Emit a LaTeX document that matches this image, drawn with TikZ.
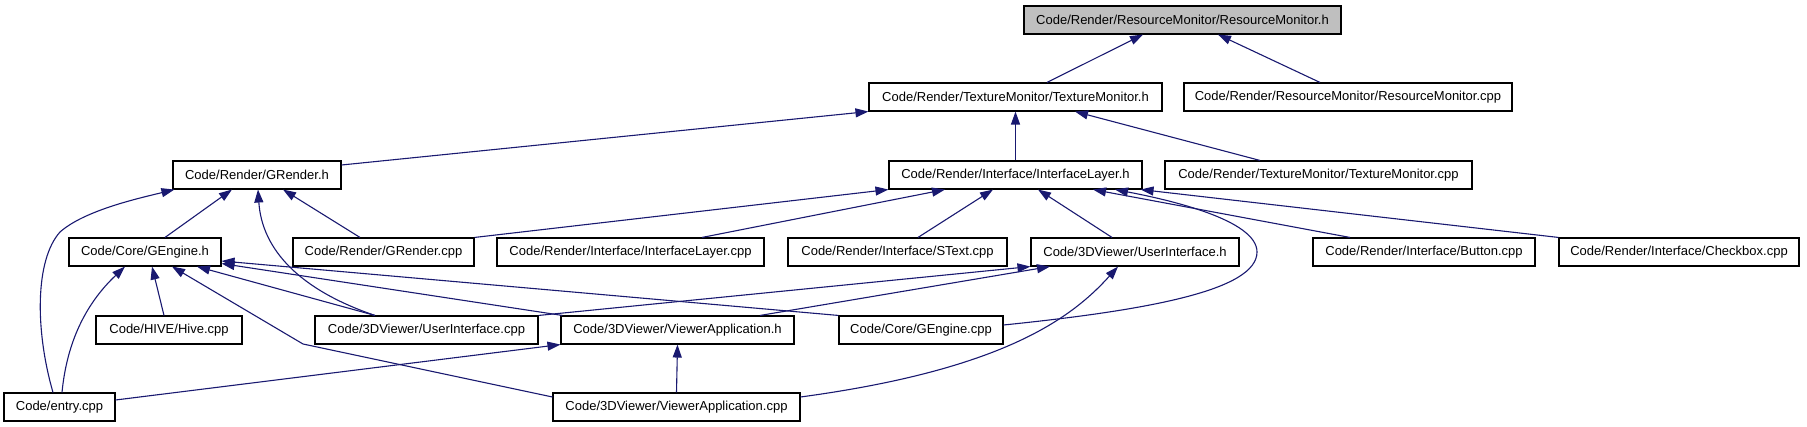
\documentclass[tikz,border=0pt]{standalone}
\usepackage{fontspec}
\setsansfont{Liberation Sans}
\usepackage{tikz}
\usetikzlibrary{arrows.meta, positioning, calc}
\usepackage{xcolor}
\definecolor{MidnightBlue}{RGB}{25, 25, 112}
\definecolor{RootGray}{RGB}{191, 191, 191}

\begin{document}
\begin{tikzpicture}[
    x=1pt, y=-1pt,
    box/.style={rectangle, draw=black, fill=white, line width=1.1pt, inner sep=0pt, minimum height=28pt, font=\sffamily\fontsize{13}{15}\selectfont},
    root/.style={box, fill=RootGray},
    arrow/.style={-{Triangle[length=13pt, width=9pt]}, draw=MidnightBlue, line width=1.1pt}
]
    \useasboundingbox (0,0) rectangle (1807,427);

    % files
    \node[root, minimum width=317pt] (resmonh) at (1182.5,20) {Code/Render/ResourceMonitor/ResourceMonitor.h};
    \node[box, minimum width=293pt] (texmonh) at (1015.5,97) {Code/Render/TextureMonitor/TextureMonitor.h};
    \node[box, minimum width=328pt] (resmoncpp) at (1348,97) {Code/Render/ResourceMonitor/ResourceMonitor.cpp};
    \node[box, minimum width=168pt] (grenderh) at (257,175) {Code/Render/GRender.h};
    \node[box, minimum width=253pt] (ilayerh) at (1015.5,175) {Code/Render/Interface/InterfaceLayer.h};
    \node[box, minimum width=307pt] (texmoncpp) at (1318.5,175) {Code/Render/TextureMonitor/TextureMonitor.cpp};
    \node[box, minimum width=152pt] (gengineh) at (145,252) {Code/Core/GEngine.h};
    \node[box, minimum width=181pt] (grendercpp) at (383.5,252) {Code/Render/GRender.cpp};
    \node[box, minimum width=267pt] (ilayercpp) at (630.5,252) {Code/Render/Interface/InterfaceLayer.cpp};
    \node[box, minimum width=219pt] (stextcpp) at (897.5,252) {Code/Render/Interface/SText.cpp};
    \node[box, minimum width=208pt] (uih) at (1135,252) {Code/3DViewer/UserInterface.h};
    \node[box, minimum width=222pt] (buttoncpp) at (1424,252) {Code/Render/Interface/Button.cpp};
    \node[box, minimum width=240pt] (checkboxcpp) at (1679,252) {Code/Render/Interface/Checkbox.cpp};
    \node[box, minimum width=146pt] (hivecpp) at (169,330) {Code/HIVE/Hive.cpp};
    \node[box, minimum width=223pt] (uicpp) at (426.5,330) {Code/3DViewer/UserInterface.cpp};
    \node[box, minimum width=233pt] (vah) at (677.5,330) {Code/3DViewer/ViewerApplication.h};
    \node[box, minimum width=164pt] (genginecpp) at (921,330) {Code/Core/GEngine.cpp};
    \node[box, minimum width=111pt] (entrycpp) at (59.5,407) {Code/entry.cpp};
    \node[box, minimum width=247pt] (vacpp) at (676.5,407) {Code/3DViewer/ViewerApplication.cpp};

    % includes
    \draw[arrow] ([xshift=31.5pt]texmonh.north) -- ([xshift=-39.5pt]resmonh.south);
    \draw[arrow] ([xshift=-28pt]resmoncpp.north) -- ([xshift=35.5pt]resmonh.south);
    \draw[arrow] ([yshift=10pt]grenderh.east) -- (texmonh.south west);
    \draw[arrow] (ilayerh.north) -- (texmonh.south);
    \draw[arrow] ([xshift=-58.5pt]texmoncpp.north) -- ([xshift=59.5pt]texmonh.south);

    \draw[arrow] ([xshift=20pt]gengineh.north) -- ([xshift=-25pt]grenderh.south);
    \draw[arrow] ([xshift=-23.5pt]grendercpp.north) -- ([xshift=26pt]grenderh.south);
    \draw[arrow] ([xshift=-51.5pt]uicpp.north) .. controls (300,290) and (262,250) .. ([xshift=1pt]grenderh.south);
    \draw[arrow] ([xshift=-6.5pt]entrycpp.north) .. controls (35,330) and (35,260) .. (60,232) .. controls (85,210) and (140,198) .. ([xshift=2pt]grenderh.south west);

    \draw[arrow] (grendercpp.north east) -- (ilayerh.south west);
    \draw[arrow] ([xshift=71.5pt]ilayercpp.north) -- ([xshift=-70.5pt]ilayerh.south);
    \draw[arrow] ([xshift=20.5pt]stextcpp.north) -- ([xshift=-22.5pt]ilayerh.south);
    \draw[arrow] ([xshift=-23pt]uih.north) -- ([xshift=22.5pt]ilayerh.south);
    \draw[arrow] ([yshift=5pt]genginecpp.east) .. controls (1150,310) and (1257,290) .. (1257,252) .. controls (1257,220) and (1170,200) .. ([xshift=99.5pt]ilayerh.south);
    \draw[arrow] ([xshift=-74pt]buttoncpp.north) -- ([xshift=77.5pt]ilayerh.south);
    \draw[arrow] (checkboxcpp.north west) -- ([xshift=-2pt]ilayerh.south east);

    \draw[arrow] ([xshift=2.5pt]entrycpp.north) .. controls (68,330) and (95,295) .. ([xshift=-20pt]gengineh.south);
    \draw[arrow] ([xshift=-5pt]hivecpp.north) -- ([xshift=7pt]gengineh.south);
    \draw[arrow] ([xshift=-51.5pt]uicpp.north) -- ([xshift=52pt]gengineh.south);
    \draw[arrow] ([xshift=2pt]vah.north west) -- ([yshift=3pt]gengineh.south east);
    \draw[arrow] (genginecpp.north west) -- ([yshift=-9pt]gengineh.east);
    \draw[arrow] ([yshift=10pt]vacpp.west) -- (303,344) -- ([xshift=27pt]gengineh.south);

    \draw[arrow] (uicpp.north east) -- (uih.south west);
    \draw[arrow] ([xshift=82.5pt]vah.north) -- ([xshift=-85pt]uih.south);
    \draw[arrow] ([yshift=10pt]vacpp.east) .. controls (1000,370) and (1070,320) .. ([xshift=-17pt]uih.south);

    \draw[arrow] ([yshift=7pt]entrycpp.east) -- (vah.south west);
    \draw[arrow] (vacpp.north) -- (vah.south);
\end{tikzpicture}
\end{document}
